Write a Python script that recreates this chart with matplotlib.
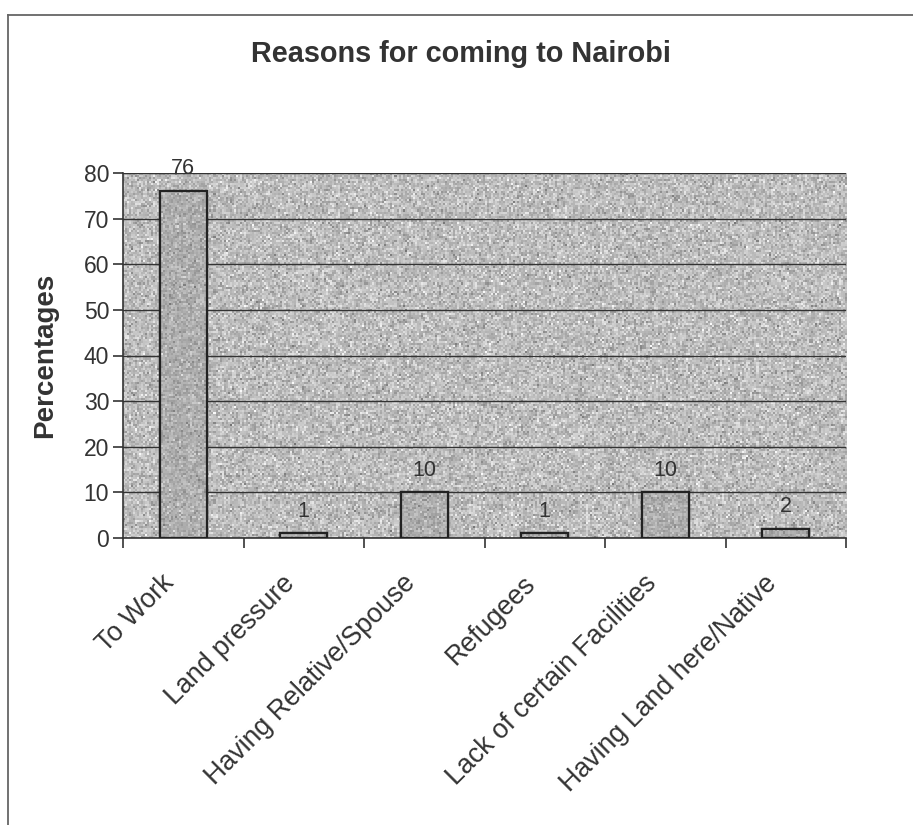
import numpy as np
import matplotlib
matplotlib.use("Agg")
import matplotlib.pyplot as plt
from matplotlib.lines import Line2D
from matplotlib.transforms import ScaledTranslation

plt.rcParams['font.family'] = ['Liberation Sans', 'DejaVu Sans']

categories = ["To Work", "Land pressure", "Having Relative/Spouse", "Refugees",
              "Lack of certain Facilities", "Having Land here/Native"]
percentages = [76, 1, 10, 1, 10, 2]
y_ticks = [0, 10, 20, 30, 40, 50, 60, 70, 80]

W, H = 913, 825
fig = plt.figure(figsize=(W / 100, H / 100), dpi=100)
fig.patch.set_facecolor('white')

# outer chart frame (top and left edges)
fig.add_artist(Line2D([8 / W, 1.0], [1 - 15 / H, 1 - 15 / H], color='#666666', lw=1.3))
fig.add_artist(Line2D([8 / W, 8 / W], [0, 1 - 15 / H], color='#666666', lw=1.3))

ax = fig.add_axes([123 / W, 1 - 538 / H, (846 - 123) / W, (538 - 173) / H])
ax.set_facecolor('#b8b8b8')
ax.set_xlim(-0.5, 5.5)
ax.set_ylim(0, 80)

# granite-style fill for the plotting area
rng = np.random.default_rng(7)
grain = rng.normal(0.74, 0.08, size=(180, 360)).clip(0.45, 0.98)
ax.imshow(grain, cmap='gray', vmin=0, vmax=1, extent=(-0.5, 5.5, 0, 80),
          aspect='auto', zorder=0, interpolation='nearest')

x = np.arange(len(categories))
bars = ax.bar(x, percentages, width=0.39, color='#aaaaaa', edgecolor='#222222',
              linewidth=1.6, zorder=3)
# slightly darker grain inside each bar
bar_grain = rng.normal(0.68, 0.06, size=(180, 360)).clip(0.45, 0.92)
for b in bars:
    im = ax.imshow(bar_grain, cmap='gray', vmin=0, vmax=1, extent=(-0.5, 5.5, 0, 80),
                   aspect='auto', zorder=3.5, interpolation='nearest')
    im.set_clip_path(b)
    edge = plt.Rectangle(b.get_xy(), b.get_width(), b.get_height(), fill=False,
                         edgecolor='#222222', linewidth=1.6, zorder=4)
    ax.add_patch(edge)

for b, v in zip(bars, percentages):
    ax.annotate(f"{v}", (b.get_x() + b.get_width() / 2, v), xytext=(0, 8.5),
                textcoords='offset points', ha='center', va='bottom',
                fontsize=15.5, color='#333333', zorder=5)

ax.set_xlim(-0.5, 5.5)
ax.set_ylim(0, 80)
ax.set_yticks(y_ticks)
ax.yaxis.grid(True, color='#333333', linewidth=1.0, zorder=1)
ax.set_axisbelow(False)

ax.set_xticks(np.arange(-0.5, 5.6, 1.0))
ax.set_xticklabels([])
ax.set_xticks(x, minor=True)
ax.set_xticklabels(categories, minor=True, rotation=45, ha='right', va='center',
                   rotation_mode='anchor', fontsize=19.3, color='#333333')
ax.tick_params(axis='x', which='minor', length=0, pad=24)
ax.tick_params(axis='x', which='major', length=7, width=1.2, color='#333333', direction='out')
ax.tick_params(axis='y', length=7, width=1.2, color='#333333', direction='out',
               labelsize=16.5, labelcolor='#333333', pad=3)
shift = ScaledTranslation(-13 / 100, -8 / 100, fig.dpi_scale_trans)
for lbl in ax.get_xticklabels(minor=True):
    lbl.set_transform(lbl.get_transform() + shift)

for s in ['top', 'right']:
    ax.spines[s].set_visible(False)
for s in ['left', 'bottom']:
    ax.spines[s].set_color('#333333')
    ax.spines[s].set_linewidth(1.2)

ax.set_ylabel("Percentages", fontsize=20, fontweight='bold', color='#333333')
ax.yaxis.set_label_coords(58 / W, 1 - 355 / H, transform=fig.transFigure)

fig.text(461 / W, 1 - 54 / H, "Reasons for coming to Nairobi", ha='center', va='center',
         fontsize=20.8, fontweight='bold', color='#333333')

fig.savefig("out.png", dpi=100)
